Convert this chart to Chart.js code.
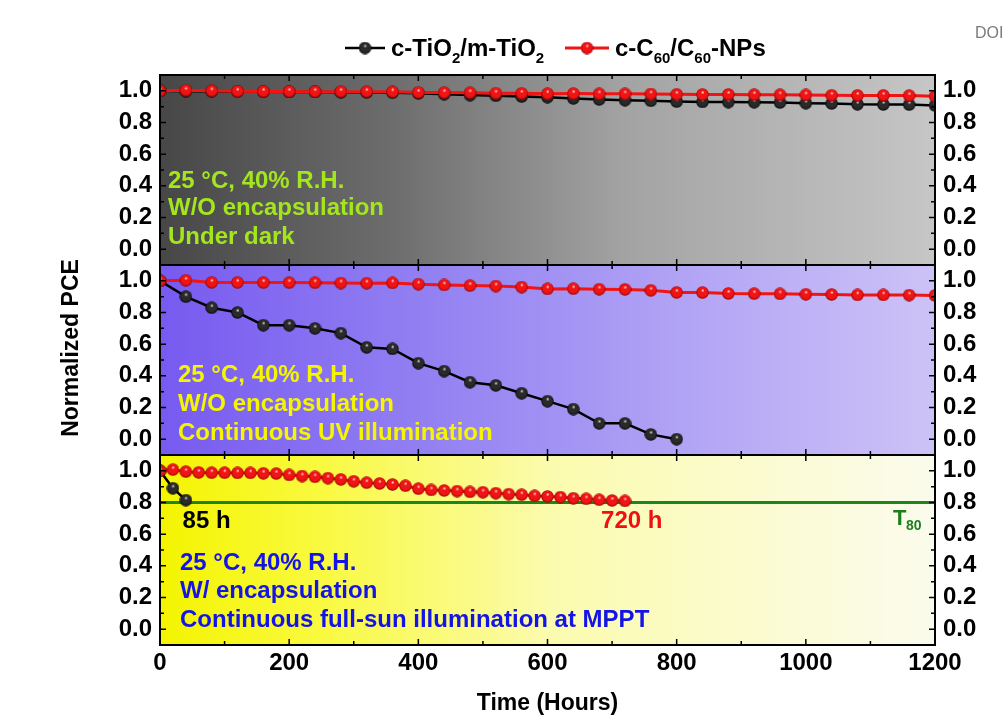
<!DOCTYPE html>
<html>
<head>
<meta charset="utf-8">
<script src="https://cdn.jsdelivr.net/npm/chart.js@4.4.1/dist/chart.umd.min.js"></script>
<style>
  html, body { margin: 0; padding: 0; background: #ffffff; }
  #wrap { position: relative; width: 1004px; height: 724px; overflow: hidden;
          font-family: "Liberation Sans", Arial, sans-serif; font-weight: bold; color: #000; }
  #chart { position: absolute; left: 0; top: 0; }
  .leg { position: absolute; top: 34px; display: flex; align-items: center; font-size: 24px; white-space: nowrap; }
  .leg canvas { margin-right: 6px; }
  .leg sub { font-size: 15px; vertical-align: -7px; line-height: 0; }
  #doi { position: absolute; left: 975px; top: 24px; font-size: 16px; font-weight: normal; color: #7a7a7a; }
</style>
</head>
<body>
<div id="wrap">
  <canvas id="chart" width="1004" height="724"></canvas>
  <div class="leg" style="left:345px"><canvas id="sw-black" width="40" height="16"></canvas><span>c-TiO<sub>2</sub>/m-TiO<sub>2</sub></span></div>
  <div class="leg" style="left:565px"><canvas id="sw-red" width="44" height="16"></canvas><span>c-C<sub>60</sub>/C<sub>60</sub>-NPs</span></div>
  <div id="doi">DOI</div>
</div>
<script>
// ---- data ----
const xTicks = [0, 200, 400, 600, 800, 1000, 1200];
const xTickLabels = ["0", "200", "400", "600", "800", "1000", "1200"];
const xMinorTicks = [0, 100, 200, 300, 400, 500, 600, 700, 800, 900, 1000, 1100, 1200];
const yTicks = [0, 0.2, 0.4, 0.6, 0.8, 1.0];
const yTickLabels = ["0.0", "0.2", "0.4", "0.6", "0.8", "1.0"];
const yMinorTicks = [0, 0.1, 0.2, 0.3, 0.4, 0.5, 0.6, 0.7, 0.8, 0.9, 1.0];

// panel 1: dark storage
const darkHours = [0, 40, 80, 120, 160, 200, 240, 280, 320, 360, 400, 440, 480, 520, 560, 600,
  640, 680, 720, 760, 800, 840, 880, 920, 960, 1000, 1040, 1080, 1120, 1160, 1200];
const darkTiO2 = [1.0, 0.998, 0.997, 0.995, 0.994, 0.993, 0.993, 0.991, 0.99, 0.988, 0.984,
  0.979, 0.973, 0.969, 0.964, 0.96, 0.952, 0.946, 0.941, 0.937, 0.932, 0.93, 0.929, 0.928,
  0.926, 0.922, 0.92, 0.915, 0.914, 0.913, 0.908];
const darkC60 = [1.0, 1.003, 1.0, 0.997, 0.996, 0.996, 0.995, 0.995, 0.995, 0.994, 0.99,
  0.989, 0.988, 0.985, 0.984, 0.982, 0.983, 0.981, 0.981, 0.98, 0.978, 0.977, 0.977, 0.976,
  0.975, 0.974, 0.972, 0.971, 0.971, 0.97, 0.966];

// panel 2: UV illumination
const uvHoursTiO2 = [0, 40, 80, 120, 160, 200, 240, 280, 320, 360, 400, 440, 480, 520, 560,
  600, 640, 680, 720, 760, 800];
const uvTiO2 = [1.0, 0.9, 0.83, 0.8, 0.72, 0.72, 0.7, 0.67, 0.58, 0.57, 0.48, 0.43, 0.36,
  0.34, 0.29, 0.24, 0.19, 0.1, 0.1, 0.03, 0.0];
const uvHoursC60 = [0, 40, 80, 120, 160, 200, 240, 280, 320, 360, 400, 440, 480, 520, 560, 600,
  640, 680, 720, 760, 800, 840, 880, 920, 960, 1000, 1040, 1080, 1120, 1160, 1200];
const uvC60 = [1.0, 1.003, 0.99, 0.99, 0.989, 0.989, 0.988, 0.986, 0.985, 0.987, 0.979, 0.974,
  0.97, 0.967, 0.961, 0.949, 0.95, 0.947, 0.946, 0.94, 0.927, 0.926, 0.92, 0.919, 0.918,
  0.915, 0.914, 0.911, 0.911, 0.91, 0.908];

// panel 3: full-sun MPPT, encapsulated
const sunHoursTiO2 = [0, 20, 40];
const sunTiO2 = [1.0, 0.89, 0.815];
const sunHoursC60 = [0, 20, 40, 60, 80, 100, 120, 140, 160, 180, 200, 220, 240, 260, 280, 300,
  320, 340, 360, 380, 400, 420, 440, 460, 480, 500, 520, 540, 560, 580, 600, 620, 640, 660,
  680, 700, 720];
const sunC60 = [1.0, 1.008, 0.995, 0.99, 0.988, 0.988, 0.987, 0.987, 0.984, 0.983, 0.974,
  0.967, 0.962, 0.954, 0.946, 0.934, 0.925, 0.92, 0.914, 0.906, 0.887, 0.879, 0.876, 0.872,
  0.867, 0.865, 0.859, 0.853, 0.849, 0.842, 0.838, 0.834, 0.827, 0.823, 0.817, 0.813, 0.81];
const t80Hours = [0, 1200];
const t80Level = [0.8, 0.8];

// ---- helpers ----
const FONT = '"Liberation Sans", Arial, sans-serif';

function ball(d, base, dark, hi) {
  const c = document.createElement("canvas");
  c.width = d;
  c.height = d;
  const g = c.getContext("2d");
  const r = d / 2;
  const grad = g.createRadialGradient(r * 1.05, r * 0.62, 0, r, r, r);
  grad.addColorStop(0, hi);
  grad.addColorStop(0.28, base);
  grad.addColorStop(0.72, base);
  grad.addColorStop(1, dark);
  g.fillStyle = grad;
  g.beginPath();
  g.arc(r, r, r - 0.3, 0, Math.PI * 2);
  g.fill();
  return c;
}

const redBall = ball(13, "#f01414", "#8c0000", "#fff0f0");
const blackBall = ball(13, "#2a2a2a", "#000000", "#f0f0f0");

function pts(xs, ys) {
  return xs.map((x, i) => ({ x, y: ys[i] }));
}

function swatch(id, color, lw, img) {
  const c = document.getElementById(id);
  const g = c.getContext("2d");
  g.strokeStyle = color;
  g.lineWidth = lw;
  g.beginPath();
  g.moveTo(0, c.height / 2);
  g.lineTo(c.width, c.height / 2);
  g.stroke();
  g.drawImage(img, c.width / 2 - img.width / 2, c.height / 2 - img.height / 2);
}
swatch("sw-black", "#000", 2.5, blackBall);
swatch("sw-red", "#f01414", 3, redBall);

function series(axis, xs, ys, color, lw, img, order) {
  return {
    data: pts(xs, ys),
    yAxisID: axis,
    borderColor: color,
    borderWidth: lw,
    pointStyle: img,
    pointRadius: 6,
    tension: 0,
    clip: 0,
    order,
  };
}

// ---- axes ----
const PANELS = ["yA", "yB", "yC"];

function leftAxis() {
  return {
    type: "linear", position: "left", stack: "L", stackWeight: 1,
    min: -0.1, max: 1.1,
    grid: { display: false, drawTicks: false },
    border: { display: false },
    afterBuildTicks: (s) => { s.ticks = yTicks.map((v) => ({ value: v })); },
    afterFit: (s) => { s.width = 160; },
    ticks: { padding: 8, color: "#000", autoSkip: false,
      font: { size: 24, weight: "bold", family: FONT },
      callback: (v, i) => yTickLabels[i] },
  };
}
function rightAxis() {
  const a = leftAxis();
  a.position = "right";
  a.stack = "R";
  a.afterFit = (s) => { s.width = 69; };
  return a;
}

// ---- plugins: panel backgrounds, frames, inner ticks, annotations ----
const backgrounds = {
  yA: [[0, "#474747"], [0.3, "#6d6d6d"], [0.6, "#a3a3a3"], [1, "#c6c6c6"]],
  yB: [[0, "#775af0"], [0.35, "#9381f2"], [0.7, "#b4a6f5"], [1, "#cdc2f7"]],
  yC: [[0, "#f4f400"], [0.2, "#f9f93e"], [0.5, "#fbfbae"], [1, "#fbfbee"]],
};

const notes = {
  yA: { color: "#a4e61e", dx: 8, lines: [[106, "25 \u00B0C, 40% R.H."], [133, "W/O encapsulation"], [162, "Under dark"]] },
  yB: { color: "#f5f500", dx: 18, lines: [[110, "25 \u00B0C, 40% R.H."], [139, "W/O encapsulation"], [168, "Continuous UV illumination"]] },
  yC: { color: "#1414e6", dx: 20, lines: [[108, "25 \u00B0C, 40% R.H."], [136, "W/ encapsulation"], [165, "Continuous full-sun illumination at MPPT"]] },
};

const panelPlugin = {
  id: "panels",
  beforeDatasetsDraw(chart) {
    const { ctx, chartArea } = chart;
    PANELS.forEach((id) => {
      const s = chart.scales[id];
      const g = ctx.createLinearGradient(chartArea.left, 0, chartArea.right, 0);
      backgrounds[id].forEach(([o, c]) => g.addColorStop(o, c));
      ctx.save();
      ctx.fillStyle = g;
      ctx.fillRect(chartArea.left, s.top, chartArea.right - chartArea.left, s.bottom - s.top);
      ctx.restore();
      // condition notes
      const n = notes[id];
      ctx.save();
      ctx.fillStyle = n.color;
      ctx.font = "bold 24px " + FONT;
      ctx.textBaseline = "middle";
      n.lines.forEach(([dy, t]) => ctx.fillText(t, chartArea.left + n.dx, s.top + dy));
      ctx.restore();
    });
  },
  afterDatasetsDraw(chart) {
    const { ctx, chartArea, scales } = chart;
    const x = scales.x;
    ctx.save();
    ctx.strokeStyle = "#000";
    ctx.lineWidth = 1.5;
    PANELS.forEach((id) => {
      const s = scales[id];
      ctx.beginPath();
      xMinorTicks.forEach((h) => {
        const px = x.getPixelForValue(h);
        const len = h % 200 === 0 ? 6 : 4;
        ctx.moveTo(px, s.top); ctx.lineTo(px, s.top + len);
        ctx.moveTo(px, s.bottom); ctx.lineTo(px, s.bottom - len);
      });
      yMinorTicks.forEach((v, i) => {
        const py = s.getPixelForValue(v);
        const len = i % 2 === 0 ? 6 : 4;
        ctx.moveTo(chartArea.left, py); ctx.lineTo(chartArea.left + len, py);
        ctx.moveTo(chartArea.right, py); ctx.lineTo(chartArea.right - len, py);
      });
      ctx.stroke();
    });
    ctx.lineWidth = 2;
    PANELS.forEach((id) => {
      const s = scales[id];
      ctx.strokeRect(chartArea.left, s.top, chartArea.right - chartArea.left, s.bottom - s.top);
    });
    ctx.restore();

    // T80 labels in the bottom panel
    const yC = scales.yC;
    const yLab = yC.getPixelForValue(0.8) + 19;
    ctx.save();
    ctx.textBaseline = "middle";
    ctx.font = "bold 24px " + FONT;
    ctx.fillStyle = "#000";
    ctx.fillText("85 h", x.getPixelForValue(35), yLab);
    ctx.fillStyle = "#ee1111";
    ctx.fillText("720 h", x.getPixelForValue(683), yLab);
    ctx.fillStyle = "#1e7e1e";
    const tx = x.getPixelForValue(1135);
    ctx.font = "bold 22px " + FONT;
    ctx.fillText("T", tx, yLab - 3);
    ctx.font = "bold 14px " + FONT;
    ctx.fillText("80", tx + 13, yLab + 5);
    ctx.restore();

    // y title
    ctx.save();
    ctx.translate(72, 348);
    ctx.rotate(-Math.PI / 2);
    ctx.font = "bold 23px " + FONT;
    ctx.fillStyle = "#000";
    ctx.textAlign = "center";
    ctx.textBaseline = "middle";
    ctx.fillText("Normalized PCE", 0, 0);
    ctx.restore();
  },
};

new Chart(document.getElementById("chart"), {
  type: "line",
  data: {
    datasets: [
      series("yA", darkHours, darkC60, "#f01414", 3, redBall, 1),
      series("yA", darkHours, darkTiO2, "#000", 2.5, blackBall, 2),
      series("yB", uvHoursC60, uvC60, "#f01414", 3, redBall, 1),
      series("yB", uvHoursTiO2, uvTiO2, "#000", 2.5, blackBall, 2),
      series("yC", sunHoursC60, sunC60, "#f01414", 3, redBall, 1),
      series("yC", sunHoursTiO2, sunTiO2, "#000", 2.5, blackBall, 2),
      {
        data: pts(t80Hours, t80Level),
        yAxisID: "yC",
        borderColor: "#1c861c",
        borderWidth: 3,
        pointRadius: 0,
        clip: 0,
        order: 3,
      },
    ],
  },
  options: {
    responsive: false,
    animation: false,
    layout: { padding: { top: 75, left: 0, right: 0, bottom: 0 } },
    plugins: { legend: { display: false }, tooltip: { enabled: false } },
    scales: {
      x: {
        type: "linear", position: "bottom", min: 0, max: 1200,
        grid: { display: false, drawTicks: false },
        border: { display: false },
        afterBuildTicks: (s) => { s.ticks = xTicks.map((v) => ({ value: v })); },
        afterFit: (s) => { s.height = 79; },
        ticks: { padding: 4, color: "#000", maxRotation: 0, autoSkip: false,
          font: { size: 24, weight: "bold", family: FONT },
          callback: (v, i) => xTickLabels[i] },
        title: { display: true, text: "Time (Hours)", color: "#000",
          padding: { top: 0, bottom: 7 },
          font: { size: 23, weight: "bold", family: FONT } },
      },
      yC: leftAxis(),
      yB: leftAxis(),
      yA: leftAxis(),
      rA: rightAxis(),
      rB: rightAxis(),
      rC: rightAxis(),
    },
  },
  plugins: [panelPlugin],
});
</script>
</body>
</html>
